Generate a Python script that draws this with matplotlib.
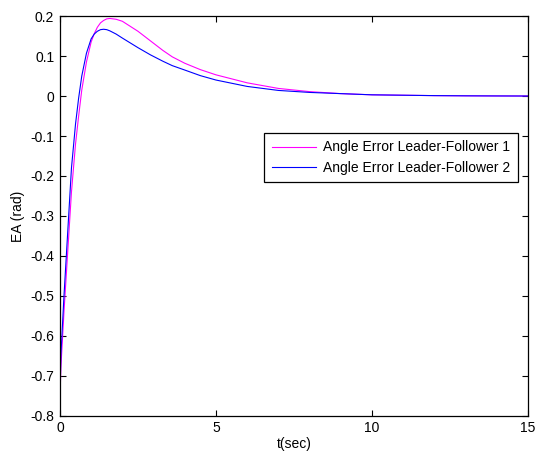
import matplotlib
matplotlib.use("Agg")
import matplotlib.pyplot as plt

plt.rcParams['font.family'] = ['Liberation Sans', 'DejaVu Sans']
plt.rcParams['font.size'] = 10

# time samples (s)
t = [0, 0.03, 0.13, 0.25, 0.37, 0.5, 0.6, 0.7, 0.85, 1.0, 1.1, 1.2, 1.3, 1.4,
     1.5, 1.6, 1.8, 2.0, 2.5, 2.9, 3.3, 3.6, 4.0, 4.5, 5.0, 6.0, 7.0, 8.0,
     9.0, 10, 11, 12, 13, 14, 15]

# angle error, leader vs follower 1
ea1 = [-0.765, -0.68, -0.54, -0.39, -0.24, -0.12, -0.05, 0.015, 0.085, 0.135,
       0.156, 0.172, 0.183, 0.189, 0.193, 0.194, 0.192, 0.187, 0.162, 0.138,
       0.114, 0.098, 0.082, 0.066, 0.053, 0.033, 0.019, 0.011, 0.006, 0.003,
       0.002, 0.001, 0.0005, 0.0002, 0]

# angle error, leader vs follower 2
ea2 = [-0.765, -0.65, -0.5, -0.34, -0.18, -0.07, -0.005, 0.05, 0.107, 0.143,
       0.155, 0.162, 0.166, 0.167, 0.166, 0.163, 0.155, 0.145, 0.121, 0.103,
       0.087, 0.076, 0.065, 0.051, 0.04, 0.024, 0.014, 0.009, 0.006, 0.003,
       0.002, 0.001, 0.0005, 0.0002, 0]

fig = plt.figure(figsize=(5.35, 4.59), dpi=100)
ax = fig.add_axes([0.112, 0.094, 0.875, 0.871])

ax.plot(t, ea1, color='#ff00ff', lw=0.8, label='Angle Error Leader-Follower 1')
ax.plot(t, ea2, color='#0000ff', lw=0.8, label='Angle Error Leader-Follower 2')

ax.set_xlim(0, 15)
ax.set_ylim(-0.8, 0.2)
ax.set_xticks([0, 5, 10, 15])
ax.set_yticks([-0.8, -0.7, -0.6, -0.5, -0.4, -0.3, -0.2, -0.1, 0, 0.1, 0.2])
ax.set_yticklabels(['-0.8', '-0.7', '-0.6', '-0.5', '-0.4', '-0.3', '-0.2',
                    '-0.1', '0', '0.1', '0.2'])
ax.tick_params(direction='in', top=True, right=True, length=4, width=0.8,
               labelsize=10, pad=4)
for s in ax.spines.values():
    s.set_linewidth(0.9)

ax.set_xlabel('t(sec)', labelpad=1)
ax.set_ylabel('EA (rad)', labelpad=4)

leg = ax.legend(loc='upper right', bbox_to_anchor=(0.979, 0.708),
                fancybox=False, edgecolor='black', framealpha=1,
                handlelength=3.2, borderpad=0.55, labelspacing=0.45,
                handletextpad=0.5, borderaxespad=0)
leg.get_frame().set_linewidth(0.9)

fig.savefig('out.png', dpi=100)
